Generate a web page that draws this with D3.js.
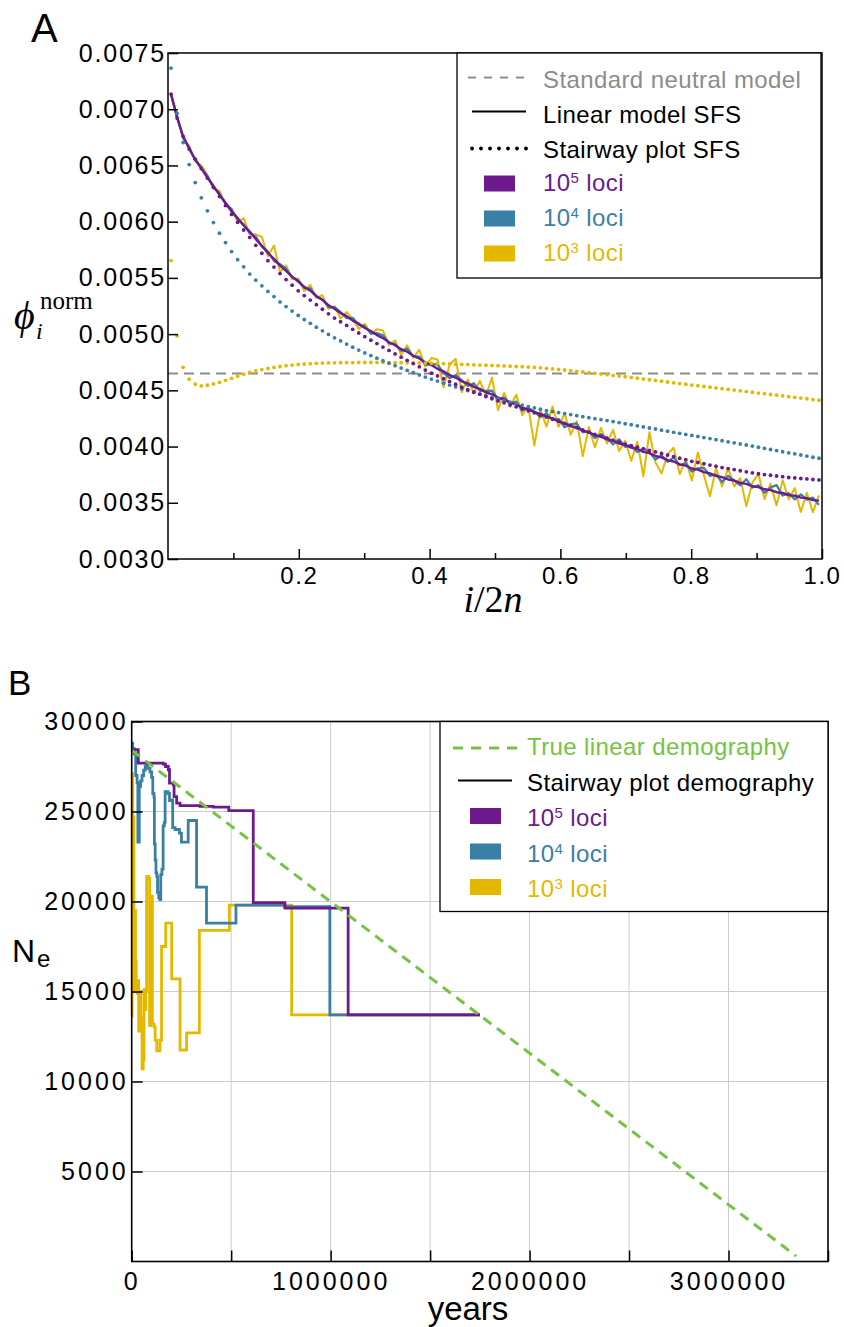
<!DOCTYPE html>
<html><head><meta charset="utf-8">
<script src="https://cdn.jsdelivr.net/npm/d3@7"></script>
<style>
body{margin:0;background:#fff}
svg{display:block}
</style>
</head><body>
<svg id="chart" width="844" height="1327"></svg>
<script>
// ---------------- DATA ----------------
// Panel A: normalised SFS, frequency bins i/2n
const nBins = 108;
const freq = d3.range(nBins).map(k => (k + 0.5) / nBins);
const neutralPhi = 0.00465;

const linear1e5 = [
.007135,.006925,.006757,.006648,.006553,.006474,.006391,.006319,.006238,.006168,
.006090,.006031,.005966,.005912,.005845,.005786,.005721,.005670,.005609,.005563,
.005511,.005468,.005420,.005386,.005339,.005304,.005257,.005226,.005187,.005160,
.005120,.005093,.005054,.005028,.004991,.004965,.004928,.004902,.004866,.004843,
.004807,.004783,.004748,.004725,.004691,.004669,.004635,.004614,.004580,.004561,
.004531,.004513,.004483,.004465,.004436,.004420,.004391,.004375,.004347,.004331,
.004305,.004290,.004264,.004250,.004223,.004209,.004182,.004168,.004142,.004127,
.004101,.004089,.004064,.004052,.004027,.004015,.003990,.003978,.003953,.003941,
.003916,.003904,.003879,.003867,.003842,.003830,.003805,.003795,.003772,.003761,
.003739,.003728,.003707,.003698,.003677,.003668,.003647,.003639,.003620,.003613,
.003594,.003587,.003568,.003563,.003546,.003541,.003524,.003519];

const linear1e4 = [
.007135,.006934,.006751,.006661,.006545,.006478,.006408,.006305,.006250,.006160,
.006110,.006019,.005977,.005896,.005867,.005778,.005735,.005650,.005622,.005583,
.005505,.005480,.005411,.005408,.005332,.005309,.005240,.005241,.005196,.005142,
.005145,.005082,.005069,.005005,.005009,.004990,.004919,.004909,.004851,.004870,
.004804,.004800,.004726,.004736,.004729,.004656,.004608,.004636,.004591,.004538,
.004564,.004495,.004496,.004497,.004417,.004435,.004384,.004400,.004320,.004343,
.004313,.004262,.004297,.004235,.004246,.004171,.004200,.004205,.004125,.004134,
.004076,.004111,.004075,.004019,.004065,.003997,.004013,.003950,.003986,.003948,
.003884,.003923,.003864,.003904,.003835,.003852,.003778,.003807,.003810,.003738,
.003752,.003685,.003740,.003700,.003655,.003710,.003635,.003656,.003588,.003635,
.003657,.003564,.003586,.003530,.003574,.003528,.003547,.003481];

const linear1e3 = [
.007135,.006937,.006739,.006671,.006540,.006502,.006414,.006292,.006275,.006146,
.006117,.005999,.006029,.005890,.005887,.005864,.005693,.005788,.005552,.005611,
.005488,.005495,.005383,.005438,.005322,.005346,.005225,.005248,.005140,.005197,
.005133,.005045,.005092,.005000,.005044,.005032,.004901,.004944,.004814,.004900,
.004790,.004860,.004711,.004787,.004774,.004526,.004728,.004781,.004483,.004598,
.004474,.004585,.004456,.004612,.004324,.004477,.004354,.004462,.004280,.004358,
.004008,.004327,.004177,.004357,.004176,.004296,.004105,.004225,.003915,.004174,
.003994,.004166,.004027,.004149,.003960,.004052,.003873,.004045,.003736,.004128,
.003859,.003761,.003932,.003989,.003755,.003887,.003698,.003947,.003745,.003558,
.003812,.003645,.003810,.003645,.003720,.003470,.003680,.003756,.003533,.003670,
.003477,.003701,.003531,.003630,.003419,.003588,.003417,.003566];

const stairway1e5 = [
.007135,.006922,.006759,.006646,.006555,.006471,.006388,.006305,.006223,.006143,
.006064,.005994,.005926,.005860,.005790,.005719,.005653,.005596,.005538,.005485,
.005435,.005385,.005343,.005303,.005262,.005221,.005180,.005143,.005110,.005077,
.005043,.005010,.004977,.004946,.004916,.004885,.004855,.004824,.004795,.004767,
.004738,.004709,.004680,.004653,.004628,.004603,.004578,.004554,.004528,.004506,
.004486,.004466,.004445,.004425,.004406,.004389,.004370,.004353,.004336,.004318,
.004300,.004281,.004263,.004245,.004226,.004207,.004187,.004168,.004148,.004128,
.004109,.004092,.004074,.004057,.004039,.004022,.004007,.003994,.003980,.003966,
.003952,.003939,.003924,.003911,.003896,.003883,.003869,.003858,.003847,.003835,
.003825,.003813,.003804,.003795,.003785,.003775,.003766,.003758,.003751,.003745,
.003738,.003732,.003725,.003721,.003716,.003712,.003707,.003703];

const stairway1e4 = [
.007366,.006965,.006704,.006508,.006348,.006212,.006096,.005992,.005898,.005814,
.005734,.005662,.005598,.005534,.005480,.005429,.005380,.005334,.005286,.005245,
.005205,.005166,.005130,.005096,.005062,.005029,.004997,.004967,.004939,.004911,
.004884,.004858,.004833,.004809,.004786,.004763,.004741,.004719,.004698,.004677,
.004657,.004637,.004618,.004600,.004582,.004564,.004547,.004530,.004514,.004498,
.004482,.004467,.004452,.004437,.004423,.004409,.004395,.004382,.004369,.004356,
.004344,.004332,.004320,.004311,.004302,.004293,.004284,.004275,.004266,.004257,
.004248,.004240,.004231,.004222,.004213,.004203,.004194,.004184,.004175,.004165,
.004156,.004146,.004137,.004127,.004118,.004108,.004099,.004090,.004080,.004071,
.004061,.004052,.004042,.004033,.004023,.004014,.004004,.003994,.003984,.003974,
.003964,.003954,.003944,.003935,.003925,.003915,.003905,.003896];

const stairway1e3 = [
.005654,.004984,.004705,.004599,.004554,.004539,.004545,.004557,.004570,.004589,
.004607,.004626,.004644,.004660,.004673,.004685,.004695,.004704,.004712,.004719,
.004725,.004730,.004734,.004737,.004740,.004742,.004744,.004745,.004746,.004747,
.004747,.004748,.004748,.004748,.004748,.004748,.004747,.004747,.004746,.004745,
.004744,.004743,.004742,.004740,.004739,.004737,.004735,.004733,.004731,.004729,
.004727,.004725,.004723,.004721,.004719,.004717,.004715,.004712,.004710,.004707,
.004704,.004700,.004696,.004691,.004686,.004681,.004675,.004669,.004663,.004657,
.004651,.004645,.004639,.004633,.004628,.004621,.004615,.004608,.004601,.004594,
.004588,.004581,.004574,.004567,.004560,.004554,.004547,.004541,.004534,.004528,
.004521,.004515,.004508,.004502,.004496,.004489,.004483,.004476,.004470,.004463,
.004457,.004451,.004444,.004438,.004431,.004425,.004418,.004412];

const xTicksA = [0.2, 0.4, 0.6, 0.8, 1.0];
const xMinorA = [0.1, 0.3, 0.5, 0.7, 0.9];
const yTicksA = [0.0030, 0.0035, 0.0040, 0.0045, 0.0050, 0.0055, 0.0060, 0.0065, 0.0070, 0.0075];

// Panel B: demography, [years, Ne]
const trueDemography = [[0, 28400], [3340000, 300]];
const steps1e5 = [[0,28430],[33000,27690],[159000,27630],[170000,27500],[184000,27320],[190000,26580],
  [209000,26480],[213000,25830],[226000,25470],[243000,25330],[343000,25280],[410000,25240],
  [488000,25050],[611000,19940],[770000,19630],[1088000,13700],[1750000,13700]];
const steps1e4 = [[0,28800],[5000,28500],[12000,28200],[20000,27000],[27000,26600],[31000,23300],
  [38000,26400],[45000,26700],[52000,27000],[60000,27300],[68000,27500],[75000,27700],[82000,27400],
  [92000,27200],[100000,26900],[106000,26000],[112000,25800],[114000,23200],[118000,22300],
  [122000,21600],[126000,21400],[130000,20500],[136000,20200],[142000,20100],[146000,21500],
  [152000,21800],[158000,24200],[164000,24400],[168000,26100],[183000,26000],[190000,25600],
  [200000,25650],[206000,24100],[218000,24000],[240000,23800],[250000,23300],[284000,24500],
  [326000,20800],[376000,18800],[524000,19800],[770000,19720],[996000,13700],[1750000,13700]];
const steps1e3 = [[0,13600],[2000,27100],[5000,19700],[8000,24700],[11000,15000],[15000,19500],
  [19000,16700],[23000,15600],[27000,14900],[31000,15600],[35000,12800],[40000,15000],[46000,13600],
  [52000,10700],[58000,11200],[62000,15100],[67000,14000],[71000,15000],[75000,21400],[85000,21300],
  [90000,13100],[96000,20300],[104000,13200],[112000,13050],[118000,12300],[126000,11700],
  [142000,12300],[150000,17500],[171000,18800],[201000,15700],[243000,11750],[276000,12700],
  [340000,18400],[491000,19800],[804000,13700],[1750000,13700]];

const xTicksB = [0, 500000, 1000000, 1500000, 2000000, 2500000, 3000000, 3500000];
const xLabelledB = [0, 1000000, 2000000, 3000000];
const yTicksB = [5000, 10000, 15000, 20000, 25000, 30000];

const lociSup = ["5", "4", "3"];
const legendA = ["Standard neutral model", "Linear model SFS", "Stairway plot SFS"];
const legendB = ["True linear demography", "Stairway plot demography"];

// ---------------- STYLE ----------------
const C5 = "#6C1A8E", C4 = "#3A7FA5", C3 = "#E5B800", CG = "#74C343", CN = "#8C8C8C";
const lociColors = [C5, C4, C3];
const SANS = "'Liberation Sans', Arial, Helvetica, sans-serif";
const SERIF = "'Liberation Serif', 'DejaVu Serif', 'Times New Roman', serif";

const svg = d3.select("#chart");
svg.append("rect").attr("width", 844).attr("height", 1327).attr("fill", "#fff");

function styleAxis(g, size, spacing) {
  g.select(".domain").remove();
  g.attr("font-family", SANS).attr("font-size", size);
  g.selectAll(".tick line").attr("stroke", "#000").attr("stroke-width", 1.5);
  g.selectAll(".tick text").attr("fill", "#000").style("letter-spacing", spacing + "px");
}

// ---------------- PANEL A ----------------
const xA = d3.scaleLinear().domain([0, 1]).range([168, 822]);
const yA = d3.scaleLinear().domain([0.003, 0.0075]).range([559, 53]);
const gA = svg.append("g");

gA.append("line").attr("x1", xA(0)).attr("x2", xA(1)).attr("y1", yA(neutralPhi)).attr("y2", yA(neutralPhi))
  .attr("stroke", CN).attr("stroke-width", 2).attr("stroke-dasharray", "10,6");

const lineA = d3.line().x((d, i) => xA(freq[i])).y(d => yA(d));
[[linear1e3, C3, 2], [linear1e4, C4, 2.2], [linear1e5, C5, 2.4]].forEach(([s, c, w]) => {
  gA.append("path").datum(s).attr("d", lineA).attr("fill", "none").attr("stroke", c)
    .attr("stroke-width", w).attr("stroke-linejoin", "round");
});
[[stairway1e3, C3], [stairway1e4, C4], [stairway1e5, C5]].forEach(([s, c]) => {
  gA.append("g").selectAll("circle").data(s).join("circle")
    .attr("cx", (d, i) => xA(freq[i])).attr("cy", d => yA(d)).attr("r", 1.9).attr("fill", c);
});

const gxA = gA.append("g").attr("transform", `translate(0,${yA(0.003)})`)
  .call(d3.axisBottom(xA).tickValues(xTicksA).tickFormat(d3.format(".1f")).tickSize(-10).tickPadding(8));
styleAxis(gxA, 24, 1.5);
const gxmA = gA.append("g").attr("transform", `translate(0,${yA(0.003)})`)
  .call(d3.axisBottom(xA).tickValues(xMinorA).tickFormat("").tickSize(-6));
styleAxis(gxmA, 24, 0);
const gyA = gA.append("g").attr("transform", `translate(${xA(0)},0)`)
  .call(d3.axisLeft(yA).tickValues(yTicksA).tickFormat(d3.format(".4f")).tickSize(-10).tickPadding(2));
styleAxis(gyA, 25, 1.8);
gA.append("rect").attr("x", xA(0)).attr("y", yA(0.0075)).attr("width", xA(1) - xA(0))
  .attr("height", yA(0.003) - yA(0.0075)).attr("fill", "none").attr("stroke", "#000").attr("stroke-width", 1.5);

// legend A
const lgA = gA.append("g");
lgA.append("rect").attr("x", 457).attr("y", 53).attr("width", 364).attr("height", 225)
  .attr("fill", "#fff").attr("stroke", "#000").attr("stroke-width", 1.3);
const baseA = i => 87.5 + i * 35;
lgA.append("line").attr("x1", 468).attr("x2", 528).attr("y1", baseA(0) - 10).attr("y2", baseA(0) - 10)
  .attr("stroke", CN).attr("stroke-width", 2).attr("stroke-dasharray", "8,8");
lgA.append("line").attr("x1", 472).attr("x2", 526).attr("y1", baseA(1) - 11).attr("y2", baseA(1) - 11)
  .attr("stroke", "#000").attr("stroke-width", 2);
lgA.append("g").selectAll("circle").data(d3.range(7)).join("circle")
  .attr("cx", d => 472 + d * 9).attr("cy", baseA(2) - 9).attr("r", 1.9).attr("fill", "#000");
legendA.forEach((t, i) => {
  lgA.append("text").attr("x", 543).attr("y", baseA(i)).attr("font-family", SANS).attr("font-size", 24)
    .style("letter-spacing", "0.4px").attr("fill", i === 0 ? CN : "#000").text(t);
});
lociSup.forEach((s, j) => {
  const i = j + 3, b = baseA(i) - 2;
  lgA.append("rect").attr("x", 484).attr("y", b - 15).attr("width", 31).attr("height", 16).attr("fill", lociColors[j]);
  const t = lgA.append("text").attr("x", 543).attr("y", b).attr("font-family", SANS).attr("font-size", 24)
    .style("letter-spacing", "0.4px").attr("fill", lociColors[j]);
  t.append("tspan").text("10");
  t.append("tspan").text(s).attr("font-size", 15).attr("dy", -8);
  t.append("tspan").text(" loci").attr("dy", 8);
});

// labels A
svg.append("text").attr("x", 31).attr("y", 42).attr("font-family", SANS).attr("font-size", 40).text("A");
svg.append("text").attr("x", 14).attr("y", 329).attr("font-family", SERIF).attr("font-style", "italic")
  .attr("font-size", 40).text("ϕ");
svg.append("text").attr("x", 40).attr("y", 309).attr("font-family", SERIF).attr("font-size", 25).text("norm");
svg.append("text").attr("x", 36).attr("y", 339).attr("font-family", SERIF).attr("font-style", "italic")
  .attr("font-size", 24).text("i");
const xl = svg.append("text").attr("x", 493).attr("y", 612).attr("text-anchor", "middle")
  .attr("font-family", SERIF).attr("font-size", 38);
xl.append("tspan").attr("font-style", "italic").text("i");
xl.append("tspan").text("/2");
xl.append("tspan").attr("font-style", "italic").text("n");

// ---------------- PANEL B ----------------
const xB = d3.scaleLinear().domain([0, 3500000]).range([131.7, 828]);
const yB = d3.scaleLinear().domain([0, 30000]).range([1261.5, 721.5]);
const gB = svg.append("g");

gB.append("g").selectAll("line").data(xTicksB.slice(1, -1)).join("line")
  .attr("x1", d => xB(d)).attr("x2", d => xB(d)).attr("y1", yB(0)).attr("y2", yB(30000))
  .attr("stroke", "#cccccc").attr("stroke-width", 1);
gB.append("g").selectAll("line").data(yTicksB.slice(0, -1)).join("line")
  .attr("x1", xB(0)).attr("x2", xB(3500000)).attr("y1", d => yB(d)).attr("y2", d => yB(d))
  .attr("stroke", "#cccccc").attr("stroke-width", 1);

const stepLine = d3.line().x(d => xB(d[0])).y(d => yB(d[1])).curve(d3.curveStepAfter);
[[steps1e3, C3], [steps1e4, C4], [steps1e5, C5]].forEach(([s, c]) => {
  gB.append("path").datum(s).attr("d", stepLine).attr("fill", "none").attr("stroke", c)
    .attr("stroke-width", 2.8).attr("stroke-linejoin", "miter");
});
gB.append("path").datum(trueDemography).attr("d", d3.line().x(d => xB(d[0])).y(d => yB(d[1])))
  .attr("fill", "none").attr("stroke", CG).attr("stroke-width", 3).attr("stroke-dasharray", "10,7");

const gxB = gB.append("g").attr("transform", `translate(0,${yB(0)})`)
  .call(d3.axisBottom(xB).tickValues(xTicksB).tickSize(-11).tickPadding(11)
    .tickFormat(d => xLabelledB.includes(d) ? String(d) : ""));
styleAxis(gxB, 25, 3);
const gyB = gB.append("g").attr("transform", `translate(${xB(0)},0)`)
  .call(d3.axisLeft(yB).tickValues(yTicksB).tickSize(-11).tickPadding(3).tickFormat(d => String(d)));
styleAxis(gyB, 25, 3);
gB.append("rect").attr("x", xB(0)).attr("y", yB(30000)).attr("width", xB(3500000) - xB(0))
  .attr("height", yB(0) - yB(30000)).attr("fill", "none").attr("stroke", "#000").attr("stroke-width", 1.6);

// legend B
const lgB = gB.append("g");
lgB.append("rect").attr("x", 440).attr("y", 721.5).attr("width", 388).attr("height", 190)
  .attr("fill", "#fff").attr("stroke", "#000").attr("stroke-width", 1.3);
const baseB = i => 755 + i * 35.5;
lgB.append("line").attr("x1", 453).attr("x2", 517).attr("y1", baseB(0) - 7).attr("y2", baseB(0) - 7)
  .attr("stroke", CG).attr("stroke-width", 3).attr("stroke-dasharray", "10,8");
lgB.append("line").attr("x1", 458).attr("x2", 512).attr("y1", baseB(1) - 10).attr("y2", baseB(1) - 10)
  .attr("stroke", "#000").attr("stroke-width", 2);
legendB.forEach((t, i) => {
  lgB.append("text").attr("x", 527).attr("y", baseB(i)).attr("font-family", SANS).attr("font-size", 24)
    .style("letter-spacing", "0.4px").attr("fill", i === 0 ? CG : "#000").text(t);
});
lociSup.forEach((s, j) => {
  const b = baseB(j + 2);
  lgB.append("rect").attr("x", 470).attr("y", b - 18).attr("width", 31).attr("height", 16).attr("fill", lociColors[j]);
  const t = lgB.append("text").attr("x", 527).attr("y", b).attr("font-family", SANS).attr("font-size", 24)
    .style("letter-spacing", "0.4px").attr("fill", lociColors[j]);
  t.append("tspan").text("10");
  t.append("tspan").text(s).attr("font-size", 15).attr("dy", -8);
  t.append("tspan").text(" loci").attr("dy", 8);
});

// labels B
svg.append("text").attr("x", 8).attr("y", 695).attr("font-family", SANS).attr("font-size", 35).text("B");
svg.append("text").attr("x", 12).attr("y", 962).attr("font-family", SANS).attr("font-size", 32).text("N");
svg.append("text").attr("x", 37).attr("y", 967).attr("font-family", SANS).attr("font-size", 24).text("e");
svg.append("text").attr("x", 468).attr("y", 1320).attr("text-anchor", "middle").attr("font-family", SANS)
  .attr("font-size", 33).text("years");
</script>
</body></html>
